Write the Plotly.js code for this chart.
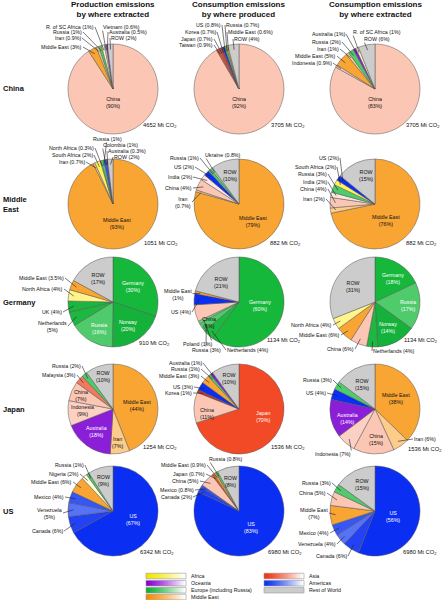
<!DOCTYPE html>
<html><head><meta charset="utf-8">
<script src="https://cdn.plot.ly/plotly-3.0.1.min.js"></script>
<style>html,body{margin:0;padding:0;background:#fff;}#chart{width:443px;height:600px;}</style>
</head><body><div id="chart"></div>
<script>
// ---------------- DATA ----------------
const rowNames = ['China', 'Middle<br>East', 'Germany', 'Japan', 'US'];
const colTitles = ['Production emissions<br>by where extracted', 'Consumption emissions<br>by where produced', 'Consumption emissions<br>by where extracted'];

const totalsChina = [4652, 3705, 3705];
const totalsMiddleEast = [1051, 882, 882];
const totalsGermany = [910, 1134, 1134];
const totalsJapan = [1254, 1536, 1536];
const totalsUS = [6342, 6980, 6980];

const chinaProdLabels = ['China','Middle East','Iran','Russia','R. of SC Africa','Vietnam','Australia','ROW'];
const chinaProdValues = [90, 3, 0.9, 1, 1, 0.6, 0.5, 2];
const chinaConsProdLabels = ['China','Taiwan','Japan','Korea','US','Russia','Middle East','ROW'];
const chinaConsProdValues = [92, 0.9, 0.7, 0.7, 0.8, 0.7, 0.6, 4];
const chinaConsExtrLabels = ['China','Indonesia','Middle East','Iran','Russia','Australia','R. of SC Africa','ROW'];
const chinaConsExtrValues = [83, 0.9, 5, 1, 2, 1, 1, 6];

const meProdLabels = ['Middle East','Iran','South Africa','North Africa','Russia','Colombia','Australia','ROW'];
const meProdValues = [93, 0.7, 2, 0.3, 1, 1, 0.3, 2];
const meConsProdLabels = ['Middle East','Iran','China','India','US','Russia','Ukraine','ROW'];
const meConsProdValues = [79, 0.7, 4, 2, 2, 1, 0.8, 10];
const meConsExtrLabels = ['Middle East','Iran','China','India','Russia','South Africa','US','ROW'];
const meConsExtrValues = [76, 2, 4, 2, 3, 2, 2, 15];

const deProdLabels = ['Germany','Norway','Russia','Netherlands','UK','North Africa','Middle East','ROW'];
const deProdValues = [30, 20, 16, 5, 4, 4, 3.5, 17];
const deConsProdLabels = ['Germany','Netherlands','Russia','Poland','China','US','Middle East','ROW'];
const deConsProdValues = [60, 4, 3, 1, 6, 4, 1, 21];
const deConsExtrLabels = ['Germany','Russia','Norway','Netherlands','China','Middle East','North Africa','ROW'];
const deConsExtrValues = [18, 17, 14, 4, 6, 6, 4, 31];

const jpProdLabels = ['Middle East','Iran','Australia','Indonesia','China','Malaysia','Russia','ROW'];
const jpProdValues = [44, 7, 18, 9, 7, 3, 2, 10];
const jpConsProdLabels = ['Japan','China','Korea','US','Middle East','Russia','Australia','ROW'];
const jpConsProdValues = [70, 11, 1, 3, 3, 1, 1, 10];
const jpConsExtrLabels = ['Middle East','Iran','China','Indonesia','Australia','US','Russia','ROW'];
const jpConsExtrValues = [38, 6, 15, 7, 14, 4, 3, 15];

const usProdLabels = ['US','Canada','Venezuela','Mexico','Middle East','Nigeria','Russia','ROW'];
const usProdValues = [67, 6, 5, 4, 6, 2, 1, 9];
const usConsProdLabels = ['US','Canada','Mexico','China','Japan','Middle East','Russia','ROW'];
const usConsProdValues = [83, 2, 0.8, 5, 0.7, 0.9, 0.8, 8];
const usConsExtrLabels = ['US','Canada','Venezuela','Mexico','Middle East','China','Russia','ROW'];
const usConsExtrValues = [56, 6, 4, 4, 7, 5, 3, 15];

const legendLeftLabels = ['Africa','Oceania','Europe (including Russia)','Middle East'];
const legendRightLabels = ['Asia','Americas','Rest of World'];

// ---------------- STYLE / LAYOUT ----------------
const W = 443, H = 600, R = 45;
const gridX = [113, 239, 375];
const gridY = [89, 204, 302, 409, 511];

const sliceColors = {
  'China':'#FCC6B5','Taiwan':'#E4503A','Japan':'#F24A26','Korea':'#C7341E','Vietnam':'#FDE2D8',
  'Indonesia':'#FCD0C2','India':'#FDE7DF','Malaysia':'#F3785E',
  'Middle East':'#F8A533','Iran':'#FDCB8A',
  'Russia':'#4FCB6B','Germany':'#15B83B','Norway':'#14B23A','Netherlands':'#1DB840','UK':'#1AB63E',
  'Poland':'#6ED684','Ukraine':'#8ADC9A',
  'US':'#0A2EF2','Canada':'#2242F3','Mexico':'#3656F5','Venezuela':'#5672F7','Colombia':'#3352F4',
  'Australia':'#8B1FD8',
  'South Africa':'#FFF35C','North Africa':'#FFF58A','Nigeria':'#FFFCD6','R. of SC Africa':'#FFFBC8',
  'ROW':'#CCCCCC'
};
const whiteText = ['Germany','Norway','Russia','Australia','Japan','US'];

const pies = [
  {labels: chinaProdLabels, values: chinaProdValues, total: totalsChina[0]},
  {labels: chinaConsProdLabels, values: chinaConsProdValues, total: totalsChina[1]},
  {labels: chinaConsExtrLabels, values: chinaConsExtrValues, total: totalsChina[2]},
  {labels: meProdLabels, values: meProdValues, total: totalsMiddleEast[0]},
  {labels: meConsProdLabels, values: meConsProdValues, total: totalsMiddleEast[1]},
  {labels: meConsExtrLabels, values: meConsExtrValues, total: totalsMiddleEast[2]},
  {labels: deProdLabels, values: deProdValues, total: totalsGermany[0]},
  {labels: deConsProdLabels, values: deConsProdValues, total: totalsGermany[1]},
  {labels: deConsExtrLabels, values: deConsExtrValues, total: totalsGermany[2]},
  {labels: jpProdLabels, values: jpProdValues, total: totalsJapan[0]},
  {labels: jpConsProdLabels, values: jpConsProdValues, total: totalsJapan[1]},
  {labels: jpConsExtrLabels, values: jpConsExtrValues, total: totalsJapan[2]},
  {labels: usProdLabels, values: usProdValues, total: totalsUS[0]},
  {labels: usConsProdLabels, values: usConsProdValues, total: totalsUS[1]},
  {labels: usConsExtrLabels, values: usConsExtrValues, total: totalsUS[2]}
];

// label placement per slice: [dx, dy, mode] relative to pie centre (px)
const labelLayout = [
  [[0,14,'I'],[-30,-42,'L'],[-31,-51,'L'],[-30,-57,'L'],[-18,-62,'L'],[-11,-62,'R'],[-5,-57,'R'],[-3,-51,'R']],
  [[0,14,'I'],[-25,-44,'L'],[-25,-50,'L'],[-22,-57,'L'],[-17,-64,'L'],[-14,-64,'R'],[-12,-57,'R'],[-6,-50,'R']],
  [[0,14,'I'],[-42,-26,'L'],[-38,-33,'L'],[-35,-40,'L'],[-33,-47,'L'],[-29,-55,'L'],[-23,-57,'R'],[-12,-50,'R']],
  [[4,20,'I'],[-27,-42,'L'],[-19,-49,'L'],[-18,-56,'L'],[-6,-65,'C'],[-11,-59,'R'],[-6,-53,'R'],[0,-47,'R']],
  [[14,17,'I'],[-47,-2,'L2'],[-46,-16,'L'],[-46,-27,'L'],[-44,-37,'L'],[-39,-46,'L'],[-35,-49,'R'],[-9,-29,'I']],
  [[11,16,'I'],[-49,-5,'L'],[-47,-15,'L'],[-47,-22,'L'],[-47,-30,'L'],[-38,-37,'L'],[-35,-46,'L'],[-9,-29,'I']],
  [[20,-15,'I'],[15,23,'I'],[-14,26,'I'],[-45,24,'L2'],[-50,10,'L'],[-49,-13,'L'],[-48,-24,'L'],[-15,-24,'I']],
  [[21,3,'I'],[-13,48,'R'],[-33,48,'C'],[-26,42,'L'],[-30,20,'I'],[-47,10,'L'],[-61,-8,'C2'],[-18,-20,'I']],
  [[18,-24,'I'],[33,3,'I'],[13,25,'I'],[-3,49,'R'],[-20,47,'L'],[-34,33,'L'],[-42,23,'L'],[-22,-15,'I']],
  [[24,-4,'I'],[5,33,'I'],[-17,22,'I'],[-31,1,'I'],[-32,-14,'I'],[-36,-34,'L'],[-31,-43,'L'],[-10,-33,'I']],
  [[24,7,'I'],[-32,5,'I'],[-46,-16,'L'],[-45,-22,'L'],[-38,-33,'L'],[-38,-40,'L'],[-36,-46,'L'],[-10,-31,'I']],
  [[21,-11,'I'],[38,30,'R'],[1,30,'I'],[-23,45,'L'],[-28,9,'I'],[-48,-16,'L'],[-42,-29,'L'],[-13,-25,'I']],
  [[20,8,'I'],[-49,20,'L'],[-50,2,'L2'],[-48,-14,'L'],[-40,-29,'L'],[-33,-37,'L'],[-28,-46,'L'],[-10,-31,'I']],
  [[12,16,'I'],[-46,-14,'L'],[-44,-21,'L'],[-39,-30,'L'],[-33,-37,'L'],[-32,-46,'L'],[-31,-52,'R'],[-9,-30,'I']],
  [[18,5,'I'],[-27,45,'L'],[-38,33,'L'],[-45,22,'L'],[-46,2,'L2'],[-48,-18,'L'],[-43,-28,'L'],[-13,-27,'I']]
];
const totalOffsets = [[29,37],[31,37],[30,37],[30,39],[30,39],[30,39],[25,41],[27,38],[28,38],[29,38],[31,38],[32,40],[26,41],[28,41],[27,41]];

const FONT = 'Liberation Sans, Arial, Helvetica, sans-serif';
const LABEL_SIZE = 5.3;
const px = x => x / W;
const py = y => 1 - y / H;

const traces = [];
const annotations = [];
const shapes = [];

pies.forEach((p, idx) => {
  const cx = gridX[idx % 3], cy = gridY[Math.floor(idx / 3)];
  traces.push({
    type: 'pie', labels: p.labels, values: p.values, sort: false,
    direction: 'clockwise', rotation: 0, textinfo: 'none', hoverinfo: 'none',
    showlegend: false,
    marker: {colors: p.labels.map(l => sliceColors[l]), line: {color: '#555', width: 0.5}},
    domain: {x: [px(cx - R), px(cx + R)], y: [py(cy + R), py(cy - R)]}
  });
  const tot = p.values.reduce((a, b) => a + b, 0);
  let cum = 0;
  p.values.forEach((v, i) => {
    const mid = (cum + v / 2) / tot * 2 * Math.PI; cum += v;
    const [dx, dy, mode] = labelLayout[idx][i];
    const name = p.labels[i];
    const tx = cx + dx, ty = cy + dy;
    const twoLine = mode === 'I' || mode.endsWith('2');
    const text = twoLine ? name + '<br>(' + v + '%)' : name + ' (' + v + '%)';
    if (mode === 'I') {
      annotations.push({
        xref: 'paper', yref: 'paper', x: px(tx), y: py(ty), text: text, showarrow: false,
        xanchor: 'center', yanchor: 'middle', align: 'center', borderpad: 0,
        font: {family: FONT, size: LABEL_SIZE, color: whiteText.includes(name) ? '#ffffff' : '#111111'}
      });
    } else {
      const rr = 0.88 * R;
      const hx = cx + rr * Math.sin(mid), hy = cy - rr * Math.cos(mid);
      const anchor = mode[0] === 'L' ? 'right' : (mode[0] === 'R' ? 'left' : 'center');
      annotations.push({
        xref: 'paper', yref: 'paper', x: px(hx), y: py(hy), ax: tx - hx, ay: ty - hy,
        text: text, showarrow: true, arrowhead: 0, arrowwidth: 0.6, arrowcolor: '#222', standoff: 0,
        xanchor: anchor, yanchor: 'middle', align: 'center', borderpad: 0,
        font: {family: FONT, size: LABEL_SIZE, color: '#111111'}
      });
    }
  });
  const [ox, oy] = totalOffsets[idx];
  annotations.push({
    xref: 'paper', yref: 'paper', x: px(cx + ox), y: py(cy + oy), text: p.total + ' Mt CO<sub>2</sub>',
    showarrow: false, xanchor: 'left', yanchor: 'middle', borderpad: 0,
    font: {family: FONT, size: 5.8, color: '#111'}
  });
});

colTitles.forEach((t, i) => {
  annotations.push({
    xref: 'paper', yref: 'paper', x: px(gridX[i]), y: py(9.5), text: '<b>' + t + '</b>',
    showarrow: false, xanchor: 'center', yanchor: 'middle', align: 'center',
    font: {family: FONT, size: 8.0, color: '#111'}
  });
});
rowNames.forEach((t, i) => {
  annotations.push({
    xref: 'paper', yref: 'paper', x: px(1), y: py(gridY[i]), text: '<b>' + t + '</b>',
    showarrow: false, xanchor: 'left', yanchor: 'middle', align: 'left',
    font: {family: FONT, size: 7.5, color: '#111'}
  });
});

// legend
const legendLeftColors = ['#F2E600', '#8A00D8', '#12B033', '#F88A00'];
const legendRightColors = ['#F03412', '#0A30F2', null];
const legRows = [576, 583.2, 590.2, 597];
function hexToRgb(h) { return [parseInt(h.slice(1,3),16), parseInt(h.slice(3,5),16), parseInt(h.slice(5,7),16)]; }
function gradBox(x0, x1, yc, col) {
  const h = 2.8, N = 20;
  if (col) {
    const c = hexToRgb(col);
    for (let k = 0; k < N; k++) {
      const f = Math.min(1, Math.pow(k / (N - 1), 1.2));
      const cc = c.map(v => Math.round(v + (255 - v) * f));
      shapes.push({type: 'rect', xref: 'paper', yref: 'paper', layer: 'above',
        x0: px(x0 + (x1 - x0) * k / N), x1: px(x0 + (x1 - x0) * (k + 1) / N + 0.3),
        y0: py(yc + h), y1: py(yc - h), line: {width: 0}, fillcolor: 'rgb(' + cc.join(',') + ')'});
    }
    shapes.push({type: 'rect', xref: 'paper', yref: 'paper', layer: 'above',
      x0: px(x0), x1: px(x1), y0: py(yc + h), y1: py(yc - h), line: {width: 0.6, color: '#999'}, fillcolor: 'rgba(0,0,0,0)'});
  } else {
    shapes.push({type: 'rect', xref: 'paper', yref: 'paper', layer: 'above',
      x0: px(x0), x1: px(x1), y0: py(yc + h), y1: py(yc - h), line: {width: 0.6, color: '#999'}, fillcolor: '#CCCCCC'});
  }
}
legendLeftLabels.forEach((t, i) => {
  gradBox(146, 186, legRows[i], legendLeftColors[i]);
  annotations.push({xref: 'paper', yref: 'paper', x: px(189), y: py(legRows[i]), text: t, showarrow: false,
    xanchor: 'left', yanchor: 'middle', font: {family: FONT, size: 5.3, color: '#111'}});
});
legendRightLabels.forEach((t, i) => {
  gradBox(264, 304, legRows[i], legendRightColors[i]);
  annotations.push({xref: 'paper', yref: 'paper', x: px(307), y: py(legRows[i]), text: t, showarrow: false,
    xanchor: 'left', yanchor: 'middle', font: {family: FONT, size: 5.3, color: '#111'}});
});

const layout = {
  width: W, height: H, margin: {l: 0, r: 0, t: 0, b: 0},
  paper_bgcolor: '#ffffff', plot_bgcolor: '#ffffff',
  font: {family: FONT},
  showlegend: false, annotations: annotations, shapes: shapes
};
Plotly.newPlot('chart', traces, layout, {staticPlot: true, displayModeBar: false});
</script></body></html>
